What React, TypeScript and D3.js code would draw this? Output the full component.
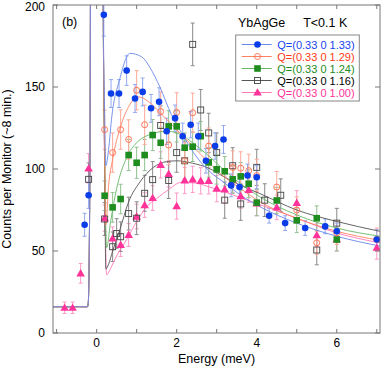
import React from 'react';
import * as d3 from 'd3';

// ---------- data ----------
// Q = (0.33 0 1.33)
const blueE = [-0.3, -0.2, 0.18, 0.36, 0.56, 0.75, 0.96, 1.15, 1.36, 1.56, 1.75, 1.96, 2.15, 2.35, 2.54, 2.73, 2.96, 3.17, 3.36, 3.57, 3.77, 4.0, 4.31, 4.71, 5.21, 5.71, 6.0, 7.0];
const blueC = [66, 84, 194, 146, 146, 160, 143, 147, 137, 141, 123, 131, 120, 127, 120, 105, 114, 118, 90, 89, 96, 95, 71.5, 67, 64, 65, 62, 57];
const blueErr = [7, 8, 13, 8.5, 8.5, 9, 8.5, 8.5, 8.5, 8.5, 8, 8, 8, 8, 8, 7.5, 8, 8.5, 7, 7, 7, 7, 4.5, 4.5, 4.5, 4.5, 5, 6];
// Q = (0.33 0 1.29)
const redE = [0.2, 0.4, 0.6, 0.8, 1.0, 1.2, 1.6, 1.8, 2.0, 2.2, 2.4, 2.8, 3.4, 3.6, 3.8, 4.0, 4.5, 5.0, 5.5, 6.0, 7.0];
const redC = [124, 110, 124, 118, 148, 127, 135, 114.6, 134.5, 105, 134.3, 114, 101, 100.5, 99, 96, 89, 75, 55, 61, 57];
const redErr = [12, 12, 12, 12, 12, 12, 12, 12, 12, 11, 12, 11, 10, 10, 10, 10, 9.5, 8, 7, 7, 7];
// Q = (0.33 0 1.24)
const greenE = [0.2, 0.4, 0.6, 0.8, 1.0, 1.2, 1.4, 1.6, 1.8, 2.0, 2.2, 2.4, 2.6, 2.8, 3.0, 3.2, 3.4, 3.6, 3.8, 4.0, 4.5, 5.0, 5.5, 6.0];
const greenC = [83.7, 76.6, 81.7, 108.5, 103.8, 108.5, 120.7, 116, 126, 126, 113, 113.6, 120, 104, 99.8, 98.6, 93.7, 95.5, 91, 79.5, 80.8, 68.7, 70, 57];
const greenErr = [9, 9, 9, 9.5, 9.5, 9.5, 9.5, 9.5, 9.5, 9.5, 9, 9, 9, 9, 9, 9, 8.5, 8.5, 8.5, 8, 8, 7.5, 7.5, 7];
// Q = (0.33 0 1.16)
const blackE = [-0.2, 0.2, 0.4, 0.5, 0.6, 0.8, 1.0, 1.2, 1.4, 1.6, 1.8, 2.0, 2.2, 2.4, 2.6, 2.8, 3.0, 3.2, 3.4, 3.6, 4.0, 4.2, 4.6, 5.5, 6.0];
const blackC = [93.7, 69.5, 52.6, 60.7, 58.7, 72.8, 70, 85.2, 93.5, 126.5, 93, 110, 105, 176, 136, 122, 110, 81, 102, 78.7, 101, 81, 84, 50.6, 67];
const blackErr = [10, 10, 9, 9, 9, 10, 10, 11, 11, 12, 11, 12, 12, 13, 12.5, 12, 12, 11, 11, 10, 11, 10, 10, 9, 9];
// Q = (0.33 0 1.00)
const pinkE = [-0.8, -0.6, -0.4, -0.2, 0.2, 0.4, 0.6, 0.8, 1.0, 1.2, 1.4, 1.6, 1.8, 2.0, 2.2, 2.4, 2.6, 2.8, 3.0, 3.2, 3.4, 3.6, 3.8, 4.0, 4.5, 5.0, 5.5, 6.0, 7.0];
const pinkC = [15.4, 15.4, 36.4, 100.4, 70, 57.7, 53.7, 59.8, 71, 78, 82.3, 102.5, 97, 77.4, 93, 93.7, 92.8, 92.8, 88, 87.6, 93.5, 83.5, 87.2, 79, 76.6, 79.3, 59.6, 57, 52];
const pinkErr = [3.5, 3.5, 6, 9, 8, 7, 7, 7, 7.5, 7.5, 7.5, 8, 8, 8, 8, 8, 8, 8, 8, 8, 8, 7.5, 7.5, 7.5, 7.5, 7.5, 7, 7, 7];

// fitted curves
const elasticE = [-1.09, -0.23, -0.21, -0.18, -0.155, -0.14, 0.14, 0.165];
const elasticC = [16, 16, 18, 60, 200, 400, 400, 200];
const blueFitE = [0.2, 0.23, 0.3, 0.37, 0.58, 0.83, 1.12, 1.33, 1.58, 1.87, 2.17, 2.42, 2.8, 3.17, 3.6, 4.08, 5, 6, 7.08];
const blueFitC = [135, 102, 112, 130, 155, 170.5, 168.5, 162, 150, 133, 120, 110, 99, 92, 84, 77, 67, 59, 53];
const redFitE = [0.2, 0.23, 0.3, 0.4, 0.6, 0.8, 1.04, 1.3, 1.6, 2.0, 2.4, 2.8, 3.2, 3.6, 4.08, 5, 6, 7.08];
const redFitC = [115, 66, 90, 106, 126, 138, 144, 141, 134, 124, 114, 104, 95, 88, 80, 70, 62, 56.5];
const greenFitE = [0.2, 0.25, 0.35, 0.5, 0.75, 1.0, 1.33, 1.75, 2.1, 2.4, 2.8, 3.2, 3.6, 4.08, 5, 6, 7.08];
const greenFitC = [110, 52, 68, 88, 107, 116, 121, 123, 121, 116, 108, 99, 91, 83, 72, 64, 59];
const blackFitE = [0.2, 0.23, 0.3, 0.4, 0.58, 0.8, 1.08, 1.42, 1.75, 2.0, 2.4, 2.8, 3.2, 3.6, 4.08, 5, 6, 7.08];
const blackFitC = [105, 39, 42, 50, 63, 80, 92, 101, 104.5, 105, 103.5, 100.5, 95, 90, 85, 75, 68, 62];
const pinkFitE = [0.2, 0.25, 0.3, 0.4, 0.5, 0.75, 1.0, 1.25, 1.5, 1.83, 2.1, 2.4, 2.8, 3.2, 3.6, 4.0, 5, 6, 7.08];
const pinkFitC = [100, 35.5, 37, 42, 47, 57, 68, 77, 82, 88, 91.8, 91.6, 89.2, 86, 82.5, 79, 70, 61, 55];

const xTicks = [-1, 0, 1, 2, 3, 4, 5, 6, 7];
const xTickLabels = [0, 2, 4, 6];
const yTicks = [0, 50, 100, 150, 200];
const legendLabels = ['Q=(0.33 0 1.33)', 'Q=(0.33 0 1.29)', 'Q=(0.33 0 1.24)', 'Q=(0.33 0 1.16)', 'Q=(0.33 0 1.00)'];

// ---------- layout ----------
const W = 381, H = 368;
const L = 53, R = 380, T = 5, B = 333;
const FONT = '"Liberation Sans", Arial, Helvetica, sans-serif';

type Series = {
  E: number[]; C: number[]; err: number[]; fitE: number[]; fitC: number[];
  marker: 'circle' | 'ocircle' | 'square' | 'osquare' | 'triangle';
  color: string; lineColor: string; errColor: string; textColor: string; label: string;
};

const series: Series[] = [
  { E: pinkE, C: pinkC, err: pinkErr, fitE: pinkFitE, fitC: pinkFitC, marker: 'triangle', color: '#ff3399', lineColor: '#ff77b8', errColor: '#ff99c8', textColor: '#ff3399', label: legendLabels[4] },
  { E: blackE, C: blackC, err: blackErr, fitE: blackFitE, fitC: blackFitC, marker: 'osquare', color: '#444444', lineColor: '#555555', errColor: '#8a8a8a', textColor: '#000000', label: legendLabels[3] },
  { E: greenE, C: greenC, err: greenErr, fitE: greenFitE, fitC: greenFitC, marker: 'square', color: '#1e8c1e', lineColor: '#66b866', errColor: '#90c090', textColor: '#1e8c1e', label: legendLabels[2] },
  { E: redE, C: redC, err: redErr, fitE: redFitE, fitC: redFitC, marker: 'ocircle', color: '#ff6a48', lineColor: '#ff8060', errColor: '#ffa898', textColor: '#ff3a1a', label: legendLabels[1] },
  { E: blueE, C: blueC, err: blueErr, fitE: blueFitE, fitC: blueFitC, marker: 'circle', color: '#0a3ce8', lineColor: '#6a88ec', errColor: '#90a8f0', textColor: '#1a44f0', label: legendLabels[0] },
];

const x = d3.scaleLinear().domain([-1.09, 7.08]).range([L, R]);
const y = d3.scaleLinear().domain([0, 200]).range([B, T]);

const triPath = d3.symbol(d3.symbolTriangle, 32)() as string;

function Marker({ kind, cx, cy, color }: { kind: Series['marker']; cx: number; cy: number; color: string }) {
  switch (kind) {
    case 'circle':
      return <circle cx={cx} cy={cy} r={3.3} fill={color} />;
    case 'ocircle':
      return <circle cx={cx} cy={cy} r={3} fill="none" stroke={color} strokeWidth={0.9} />;
    case 'square':
      return <rect x={cx - 3.3} y={cy - 3.3} width={6.6} height={6.6} fill={color} />;
    case 'osquare':
      return <rect x={cx - 3} y={cy - 3} width={6} height={6} fill="none" stroke={color} strokeWidth={0.9} />;
    case 'triangle':
      return <path d={triPath} transform={`translate(${cx},${cy + 0.6})`} fill={color} />;
  }
}

export default function App() {
  const line = d3
    .line<[number, number]>()
    .x((d) => x(d[0]))
    .y((d) => y(d[1]))
    .curve(d3.curveMonotoneX);

  const legendRows = [...series].reverse();

  return (
    <svg width={W} height={H} style={{ position: 'absolute', left: 0, top: 0, background: '#fff' }} fontFamily={FONT}>
      <defs>
        <clipPath id="plot">
          <rect x={L} y={T} width={R - L} height={B - T} />
        </clipPath>
      </defs>
      <rect x={0} y={0} width={W} height={H} fill="#fff" />

      {/* error bars */}
      <g clipPath="url(#plot)">
        {series.map((s, si) => (
          <g key={'e' + si} stroke={s.errColor} strokeWidth={1}>
            {s.E.map((e, i) => {
              const cx = x(e);
              const y1 = y(s.C[i] + s.err[i]);
              const y2 = y(s.C[i] - s.err[i]);
              return (
                <g key={i}>
                  <line x1={cx} x2={cx} y1={y1} y2={y2} />
                  <line x1={cx - 2} x2={cx + 2} y1={y1} y2={y1} />
                  <line x1={cx - 2} x2={cx + 2} y1={y2} y2={y2} />
                </g>
              );
            })}
          </g>
        ))}
      </g>

      {/* fitted curves */}
      <g clipPath="url(#plot)" fill="none">
        {series.map((s, si) => {
          const pts: [number, number][] = [
            ...elasticE.map((e, i) => [e, elasticC[i]] as [number, number]),
            ...s.fitE.map((e, i) => [e, s.fitC[i]] as [number, number]),
          ];
          return <path key={'f' + si} d={line(pts) || ''} stroke={s.lineColor} strokeWidth={0.9} />;
        })}
      </g>

      {/* markers */}
      <g clipPath="url(#plot)">
        {series.map((s, si) => (
          <g key={'m' + si}>
            {s.E.map((e, i) => (
              <Marker key={i} kind={s.marker} cx={x(e)} cy={y(s.C[i])} color={s.color} />
            ))}
          </g>
        ))}
      </g>

      {/* frame */}
      <rect x={L} y={T} width={R - L} height={B - T} fill="none" stroke="#777" strokeWidth={1} />

      {/* x ticks */}
      {xTicks.map((t) => (
        <g key={'xt' + t} stroke="#777" strokeWidth={1}>
          <line x1={x(t)} x2={x(t)} y1={B} y2={B - 4} />
          <line x1={x(t)} x2={x(t)} y1={T} y2={T + 4} />
        </g>
      ))}
      {xTickLabels.map((t) => (
        <text key={'xl' + t} x={x(t)} y={346.5} fontSize={12} textAnchor="middle" fill="#000">
          {t}
        </text>
      ))}

      {/* y ticks */}
      {yTicks.map((t) => (
        <g key={'yt' + t}>
          <line x1={L} x2={L + 5} y1={y(t)} y2={y(t)} stroke="#777" />
          <line x1={R} x2={R - 5} y1={y(t)} y2={y(t)} stroke="#777" />
          <text x={45} y={Math.max(y(t) + 4.3, 10.5)} fontSize={12} textAnchor="end" fill="#000">
            {t}
          </text>
        </g>
      ))}

      {/* axis titles */}
      <text x={216.5} y={363} fontSize={12.5} textAnchor="middle" fill="#000">
        Energy (meV)
      </text>
      <text transform={`translate(10.5,169) rotate(-90)`} fontSize={12.5} textAnchor="middle" fill="#000">
        Counts per Monitor (~8 min.)
      </text>

      {/* annotations */}
      <text x={62} y={26} fontSize={12.5} fill="#000">(b)</text>
      <text x={238} y={26.5} fontSize={12.5} fill="#000">YbAgGe</text>
      <text x={347.3} y={26.5} fontSize={12.5} textAnchor="end" fill="#000">T&lt;0.1 K</text>

      {/* legend */}
      <rect x={235.7} y={35} width={123.6} height={66} fill="#fff" stroke="#888" strokeWidth={1} />
      {legendRows.map((s, i) => {
        const cy = 44.5 + i * 12;
        return (
          <g key={'lg' + i}>
            <line x1={241.7} x2={271.7} y1={cy} y2={cy} stroke={s.lineColor} strokeWidth={1} />
            <Marker kind={s.marker} cx={257.5} cy={cy} color={s.color} />
            <text x={277.3} y={cy + 4} fontSize={11} fill={s.textColor}>
              {s.label}
            </text>
          </g>
        );
      })}
    </svg>
  );
}
